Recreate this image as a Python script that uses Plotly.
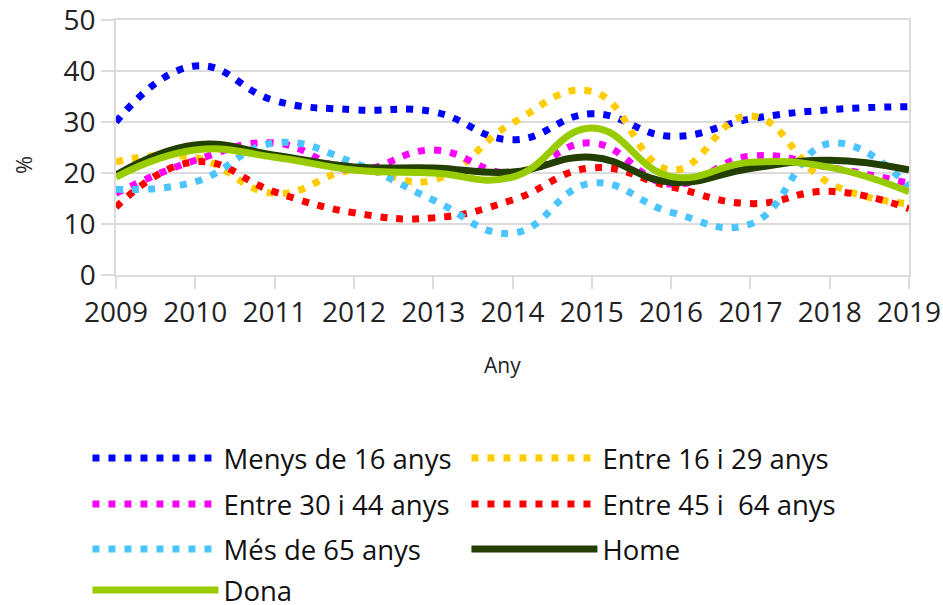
import plotly.graph_objects as go

years = [2009, 2010, 2011, 2012, 2013, 2014, 2015, 2016, 2017, 2018, 2019]

menys16 = [30.0, 41.0, 34.2, 32.4, 32.0, 26.5, 31.6, 27.2, 30.6, 32.4, 33.0]
entre16_29 = [22.2, 23.0, 16.0, 20.6, 18.6, 29.8, 36.0, 20.6, 31.2, 18.0, 14.0]
entre30_44 = [16.0, 22.5, 25.9, 20.6, 24.5, 20.0, 25.9, 17.8, 23.3, 21.1, 18.0]
entre45_64 = [13.3, 22.2, 16.3, 12.2, 11.2, 14.7, 21.0, 17.3, 14.0, 16.4, 13.0]
mes65 = [16.8, 18.3, 25.9, 22.0, 14.7, 8.2, 18.0, 12.3, 10.0, 25.8, 17.3]
home = [19.6, 25.5, 23.5, 21.2, 21.0, 20.2, 23.1, 18.2, 20.9, 22.5, 20.6]
dona = [19.2, 24.5, 23.1, 20.6, 20.0, 19.2, 28.8, 19.3, 22.1, 21.1, 16.3]

series = [
    ("Menys de 16 anys", menys16, "#0000ff", "dot", "legend"),
    ("Entre 16 i 29 anys", entre16_29, "#ffcc00", "dot", "legend"),
    ("Entre 30 i 44 anys", entre30_44, "#ff00ff", "dot", "legend2"),
    ("Entre 45 i  64 anys", entre45_64, "#ff0000", "dot", "legend2"),
    ("Més de 65 anys", mes65, "#4cc4ff", "dot", "legend3"),
    ("Home", home, "#223f00", "solid", "legend3"),
    ("Dona", dona, "#99cc00", "solid", "legend4"),
]

fig = go.Figure()
for name, vals, color, dash, leg in series:
    fig.add_trace(go.Scatter(
        x=years, y=vals, name=name, mode="lines",
        line=dict(color=color, width=7,
                  dash="7px,9px" if dash == "dot" else "solid",
                  shape="spline", smoothing=1.3),
        legend=leg,
    ))

W, H = 943, 605
ML, MT, MR = 116, 20, 34
plot_w = W - ML - MR
plot_h = 255
MB = H - MT - plot_h

font_family = "Open Sans"
leg_common = dict(orientation="h", x=-0.036, xanchor="left", yanchor="middle",
                  font=dict(size=27.5, color="#111111", family=font_family),
                  entrywidth=238, entrywidthmode="pixels", itemwidth=126,
                  bgcolor="rgba(0,0,0,0)", traceorder="normal")
rows_px = [458, 504, 549, 590]
legs = {}
for i, key in enumerate(["legend", "legend2", "legend3", "legend4"]):
    yy = 1 - (rows_px[i] - MT) / plot_h
    legs[key] = dict(leg_common, y=yy)

fig.update_layout(
    width=W, height=H,
    margin=dict(l=ML, r=MR, t=MT, b=MB, autoexpand=False),
    paper_bgcolor="white", plot_bgcolor="white",
    font=dict(family=font_family, color="#222222"),
    showlegend=True,
    **legs,
    xaxis=dict(
        range=[2009, 2019], tickmode="array", tickvals=years,
        ticktext=[str(y) for y in years],
        showgrid=False, showline=True, mirror=True, linecolor="#dcdcdc", linewidth=1.5,
        ticks="outside", ticklen=12, tickcolor="#dcdcdc", tickwidth=1.5,
        tickfont=dict(size=28, color="#222222"), ticklabeloverflow="allow",
        zeroline=False,
    ),
    yaxis=dict(
        range=[0, 50], tickvals=[0, 10, 20, 30, 40, 50],
        showgrid=True, gridcolor="#dcdcdc", gridwidth=1.5,
        showline=True, mirror=True, linecolor="#dcdcdc", linewidth=1.5,
        ticks="outside", ticklen=13, tickcolor="#dcdcdc", tickwidth=1.5,
        tickfont=dict(size=28, color="#222222"), ticklabeloverflow="allow",
        zeroline=False,
    ),
    annotations=[
        dict(text="Any", x=(502 - ML) / plot_w, y=1 - (365 - MT) / plot_h,
             xref="paper", yref="paper", showarrow=False,
             xanchor="center", yanchor="middle",
             font=dict(size=21, color="#222222", family=font_family)),
        dict(text="%", x=(23 - ML) / plot_w, y=1 - (165 - MT) / plot_h,
             xref="paper", yref="paper", showarrow=False, textangle=-90,
             xanchor="center", yanchor="middle",
             font=dict(size=22, color="#222222", family=font_family)),
    ],
)

fig.write_html(
    "out.html",
    config={"displayModeBar": False},
    post_script="document.body.style.margin='0';document.body.style.overflow='hidden';",
)
